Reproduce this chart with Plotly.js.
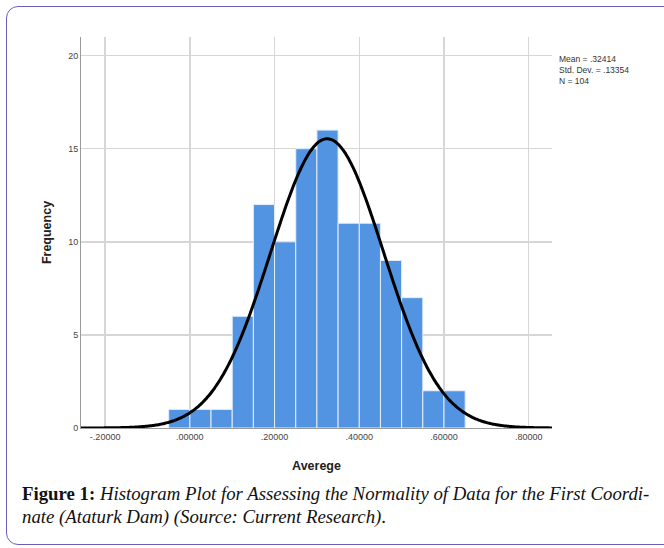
<!DOCTYPE html>
<html>
<head>
<meta charset="utf-8">
<script src="https://cdn.plot.ly/plotly-3.0.1.min.js"></script>
<style>
  html, body { margin:0; padding:0; background:#fff; }
  #wrap { position:relative; width:664px; height:548px; overflow:hidden; }
  #frame { position:absolute; left:6px; top:6px; width:700px; height:539px;
           border:1.5px solid #6a5fb8; border-radius:12px; box-sizing:border-box; }
  #chart { position:absolute; left:0; top:0; width:664px; height:548px; }
  #caption { position:absolute; left:22px; top:482px; width:640px;
             font-family:"Liberation Serif","Times New Roman",serif; font-size:18.8px;
             line-height:23px; color:#111; white-space:nowrap; }
  #caption b { font-style:normal; }
  #caption i { font-style:italic; }
</style>
</head>
<body>
<div id="wrap">
  <div id="frame"></div>
  <div id="chart"></div>
  <div id="caption"><b>Figure 1:</b> <i>Histogram Plot for Assessing the Normality of Data for the First Coordi-<br>nate (Ataturk Dam) (Source: Current Research)</i>.</div>
</div>
<script>
// Bin centres (bin width 0.05) and frequencies
const binCenters = [-0.025, 0.025, 0.075, 0.125, 0.175, 0.225, 0.275, 0.325, 0.375, 0.425, 0.475, 0.525, 0.575, 0.625];
const frequencies = [1, 1, 1, 6, 12, 10, 15, 16, 11, 11, 9, 7, 2, 2];
const binWidth = 0.05;

// Summary statistics shown on the chart
const meanVal = 0.32414;
const sdVal = 0.13354;
const nVal = 104;

// Axis ticks
const xTickVals = [-0.2, 0, 0.2, 0.4, 0.6, 0.8];
const xTickText = ["-.20000", ".00000", ".20000", ".40000", ".60000", ".80000"];
const yTickVals = [0, 5, 10, 15, 20];

const xRange = [-0.257, 0.855];

// Fitted normal curve defined by the displayed mean, SD and N
const curveX = [], curveY = [];
const steps = 300;
for (let i = 0; i <= steps; i++) {
  const x = xRange[0] + (xRange[1] - xRange[0]) * i / steps;
  const z = (x - meanVal) / sdVal;
  curveX.push(x);
  curveY.push(nVal * binWidth * Math.exp(-0.5 * z * z) / (sdVal * Math.sqrt(2 * Math.PI)));
}

const traces = [
  {
    type: 'bar', x: binCenters, y: frequencies, width: binWidth,
    marker: { color: '#5394e2', line: { color: '#e4eefb', width: 1 } },
    hoverinfo: 'x+y', showlegend: false
  },
  {
    type: 'scatter', mode: 'lines', x: curveX, y: curveY,
    line: { color: '#000', width: 3, shape: 'spline' },
    hoverinfo: 'skip', showlegend: false, cliponaxis: false
  }
];

const layout = {
  width: 664, height: 548,
  margin: { l: 81, r: 112, t: 37, b: 120 },
  paper_bgcolor: 'rgba(0,0,0,0)',
  plot_bgcolor: '#fff',
  font: { family: 'Liberation Sans, Arial, sans-serif', color: '#333' },
  bargap: 0,
  xaxis: {
    range: xRange, tickvals: xTickVals, ticktext: xTickText,
    tickfont: { size: 9, color: '#444' },
    showgrid: true, gridcolor: '#d6d6d6', gridwidth: 1.5,
    showline: true, linecolor: '#9a9a9a', linewidth: 1,
    zeroline: false, ticks: '', ticklen: 0,
    title: { text: '<b>Averege</b>', font: { size: 12.5, color: '#222' }, standoff: 20 }
  },
  yaxis: {
    range: [0, 21], tickvals: yTickVals,
    tickfont: { size: 9, color: '#444' },
    showgrid: true, gridcolor: '#d6d6d6', gridwidth: 1.5,
    showline: true, linecolor: '#9a9a9a', linewidth: 1,
    zeroline: false, ticks: '', ticklen: 0,
    title: { text: '<b>Frequency</b>', font: { size: 12.5, color: '#222' }, standoff: 13 }
  },
  annotations: [
    {
      xref: 'paper', yref: 'paper', x: 1.01, y: 0.962, xanchor: 'left', yanchor: 'top',
      align: 'left', showarrow: false,
      text: 'Mean = .32414<br>Std. Dev. = .13354<br>N = 104',
      font: { size: 8.5, color: '#333' }
    }
  ]
};

Plotly.newPlot('chart', traces, layout, { displayModeBar: false, staticPlot: true });
</script>
</body>
</html>
